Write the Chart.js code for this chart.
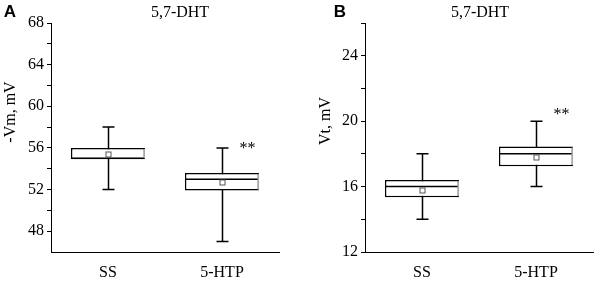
<!DOCTYPE html>
<html>
<head>
<meta charset="utf-8">
<script src="https://cdn.jsdelivr.net/npm/chart.js@4.4.0/dist/chart.umd.min.js"></script>
<style>
  body { margin: 0; background: #fff; }
  #wrap { position: relative; width: 600px; height: 283px; }
  canvas { position: absolute; top: 0; }
</style>
</head>
<body>
<div id="wrap">
  <canvas id="chartA" width="300" height="283" style="left:0"></canvas>
  <canvas id="chartB" width="300" height="283" style="left:300px"></canvas>
</div>
<script>
const categories = ['SS', '5-HTP'];

// panel A: -Vm, mV
const vmMin = [52, 47];
const vmQ1 = [54.9, 51.9];
const vmMedian = [55, 53];
const vmQ3 = [56, 53.6];
const vmMax = [58, 56];
const vmMean = [55.4, 52.7];
const vmTicks = [48, 52, 56, 60, 64, 68];
const vmMinorTicks = [50, 54, 58, 62, 66];

// panel B: Vt, mV
const vtMin = [14, 16];
const vtQ1 = [15.35, 17.25];
const vtMedian = [16, 18];
const vtQ3 = [16.4, 18.45];
const vtMax = [18, 20];
const vtMean = [15.8, 17.8];
const vtTicks = [12, 16, 20, 24];
const vtMinorTicks = [14, 18, 22, 26];

const stars = ['', '**'];
const SERIF = "'Liberation Serif', 'Times New Roman', serif";

// whiskers, median lines, mean squares and panel texts
const boxParts = {
  id: 'boxParts',
  beforeDatasetsDraw(chart, args, o) {
    const { ctx, scales: { x, y } } = chart;
    ctx.save();
    ctx.strokeStyle = '#000';
    ctx.lineWidth = 1.5;
    o.min.forEach((lo, i) => {
      const cx = Math.round(x.getPixelForValue(i)) + 0.5;
      const yLo = y.getPixelForValue(lo), yHi = y.getPixelForValue(o.max[i]);
      ctx.beginPath();
      ctx.moveTo(cx, yLo); ctx.lineTo(cx, yHi);
      ctx.moveTo(cx - 6, yLo); ctx.lineTo(cx + 6, yLo);
      ctx.moveTo(cx - 6, yHi); ctx.lineTo(cx + 6, yHi);
      ctx.stroke();
    });
    ctx.restore();
  },
  afterDatasetsDraw(chart, args, o) {
    const { ctx, scales: { x, y } } = chart;
    const meta = chart.getDatasetMeta(0);
    ctx.save();
    o.median.forEach((m, i) => {
      const bar = meta.data[i];
      const half = bar.width / 2;
      // light right edge of the box, as in the original figure
      ctx.strokeStyle = '#aaa';
      ctx.lineWidth = 1.5;
      ctx.beginPath();
      ctx.moveTo(bar.x + half - 0.75, bar.y + 1);
      ctx.lineTo(bar.x + half - 0.75, bar.base - 1);
      ctx.stroke();
      const ym = y.getPixelForValue(m);
      ctx.strokeStyle = '#000';
      ctx.beginPath();
      ctx.moveTo(bar.x - half, ym); ctx.lineTo(bar.x + half - 1.5, ym);
      ctx.stroke();
      const cx = Math.round(x.getPixelForValue(i)) + 0.5;
      const ya = Math.round(y.getPixelForValue(o.mean[i])) + 0.5;
      ctx.fillStyle = '#fff';
      ctx.strokeStyle = '#555';
      ctx.lineWidth = 1;
      ctx.fillRect(cx - 2.5, ya - 2.5, 5, 5);
      ctx.strokeRect(cx - 2.5, ya - 2.5, 5, 5);
      if (stars[i]) {
        ctx.fillStyle = '#000';
        ctx.font = '16px ' + SERIF;
        ctx.textAlign = 'center';
        ctx.textBaseline = 'middle';
        ctx.fillText(stars[i], cx + 25, y.getPixelForValue(o.max[i]) + o.starDy);
      }
    });
    ctx.restore();
  },
  afterDraw(chart, args, o) {
    const { ctx } = chart;
    ctx.save();
    ctx.fillStyle = '#000';
    ctx.textBaseline = 'middle';
    ctx.textAlign = 'center';
    ctx.font = 'bold 17px "Liberation Sans", Arial, sans-serif';
    ctx.fillText(o.letter, o.letterX, 12);
    ctx.font = '16px ' + SERIF;
    ctx.fillText('5,7-DHT', 180, 13);
    ctx.translate(o.axisX, o.axisY);
    ctx.rotate(-Math.PI / 2);
    ctx.fillText(o.axisTitle, 0, 0);
    ctx.restore();
  }
};

function makeChart(id, d) {
  const all = d.ticks.concat(d.minor).sort((a, b) => a - b);
  return new Chart(document.getElementById(id), {
    type: 'bar',
    data: {
      labels: categories,
      datasets: [{
        data: d.q1.map((v, i) => [v, d.q3[i]]),
        backgroundColor: '#fff',
        borderColor: '#000',
        borderWidth: 1.5,
        borderSkipped: false,
        barPercentage: 0.65,
        categoryPercentage: 1
      }]
    },
    plugins: [boxParts],
    options: {
      responsive: false,
      animation: false,
      events: [],
      layout: { padding: { top: 23, right: d.padRight, left: 0, bottom: 0 } },
      plugins: {
        legend: { display: false },
        tooltip: { enabled: false },
        boxParts: {
          min: d.min, max: d.max, median: d.median, mean: d.mean,
          letter: d.letter, letterX: d.letterX,
          axisTitle: d.axisTitle, axisX: d.axisX, axisY: d.axisY,
          starDy: d.starDy
        }
      },
      scales: {
        x: {
          offset: true,
          grid: { drawOnChartArea: false, drawTicks: false },
          border: { color: '#000', width: 1 },
          ticks: { color: '#000', padding: 11, font: { family: SERIF, size: 16 } },
          afterFit: (s) => { s.height = 31; }
        },
        y: {
          min: d.yMin, max: d.yMax,
          grid: { drawOnChartArea: false, tickLength: 4, tickColor: '#000' },
          border: { color: '#000', width: 1 },
          ticks: {
            color: '#000', padding: 3, autoSkip: false,
            font: { family: SERIF, size: 16 },
            callback: (v) => d.ticks.includes(v) ? String(v) : ''
          },
          afterBuildTicks: (s) => { s.ticks = all.map(v => ({ value: v })); },
          afterFit: (s) => { s.width = d.axisWidth; }
        }
      }
    }
  });
}

makeChart('chartA', {
  min: vmMin, q1: vmQ1, median: vmMedian, q3: vmQ3, max: vmMax, mean: vmMean,
  ticks: vmTicks, minor: vmMinorTicks, yMin: 46, yMax: 68,
  axisWidth: 51, padRight: 21, letter: 'A', letterX: 10,
  axisTitle: '-Vm, mV', axisX: 11, axisY: 112, starDy: 1
});

makeChart('chartB', {
  min: vtMin, q1: vtQ1, median: vtMedian, q3: vtQ3, max: vtMax, mean: vtMean,
  ticks: vtTicks, minor: vtMinorTicks, yMin: 12, yMax: 26,
  axisWidth: 65, padRight: 7, letter: 'B', letterX: 40,
  axisTitle: 'Vt, mV', axisX: 26, axisY: 121, starDy: -6
});
</script>
</body>
</html>
